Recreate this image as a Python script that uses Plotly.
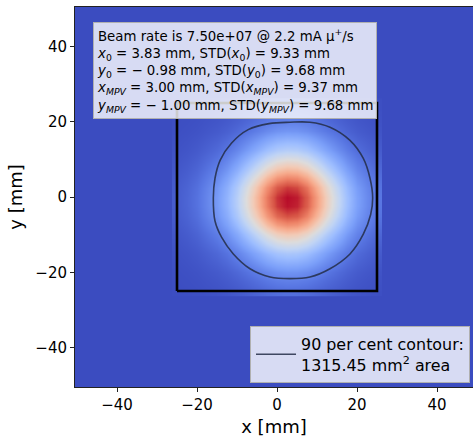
import plotly.graph_objects as go

# ---- data ----
grid_x = [-25, -22.5, -20, -17.5, -15, -12.5, -10, -7.5, -5, -2.5, 0, 2.5, 5, 7.5, 10, 12.5, 15, 17.5, 20, 22.5, 25]
grid_y = [-25, -22.5, -20, -17.5, -15, -12.5, -10, -7.5, -5, -2.5, 0, 2.5, 5, 7.5, 10, 12.5, 15, 17.5, 20, 22.5, 25]
profile_x = [0.04, 0.06, 0.09, 0.14, 0.19, 0.27, 0.38, 0.52, 0.67, 0.83, 0.95, 1.00, 0.98, 0.89, 0.74, 0.58, 0.44, 0.31, 0.21, 0.15, 0.10]
profile_y = [0.08, 0.12, 0.17, 0.25, 0.34, 0.47, 0.61, 0.77, 0.90, 0.98, 0.99, 0.93, 0.80, 0.65, 0.50, 0.37, 0.27, 0.18, 0.13, 0.09, 0.06]

contour_x = [3.25, 8.25, 13.25, 18.25, 21.58, 23.25, 23.92, 23.42, 21.58, 18.25, 13.25, 8.25, 3.25,
             -1.75, -6.75, -10.92, -13.83, -15.5, -15.92, -15.5, -14.2, -11.4, -7.2, -2.0, 3.25]
contour_y = [19.87, 19.87, 18.55, 15.05, 10.24, 4.99, -0.26, -4.64, -9.89, -15.14, -19.07, -21.26, -21.7,
             -21.26, -19.07, -15.14, -10.76, -6.38, -0.26, 4.99, 9.8, 14.3, 17.9, 19.5, 19.87]

box_x = [-25, 25, 25, -25, -25]
box_y = [-25, -25, 25, 25, -25]

x_ticks = [-40, -20, 0, 20, 40]
y_ticks = [-40, -20, 0, 20, 40]

info_lines = [
    "Beam rate is 7.50e+07 @ 2.2 mA μ<sup>+</sup>/s",
    "<i>x</i><sub>0</sub> = 3.83 mm, STD(<i>x</i><sub>0</sub>) = 9.33 mm",
    "<i>y</i><sub>0</sub> = − 0.98 mm, STD(<i>y</i><sub>0</sub>) = 9.68 mm",
    "<i>x<sub>MPV</sub></i> = 3.00 mm, STD(<i>x<sub>MPV</sub></i>) = 9.37 mm",
    "<i>y<sub>MPV</sub></i> = − 1.00 mm, STD(<i>y<sub>MPV</sub></i>) = 9.68 mm",
]
legend_label = "90 per cent contour:<br>1315.45 mm<sup>2</sup> area"

coolwarm = [
    [0.0, "#3b4cc0"], [0.1, "#5977e3"], [0.2, "#7b9ff9"], [0.3, "#9ebeff"],
    [0.4, "#c0d4f5"], [0.5, "#dddcdc"], [0.6, "#f2cbb7"], [0.7, "#f7ac8e"],
    [0.8, "#ee8468"], [0.9, "#d65244"], [1.0, "#b40426"],
]

z = [[py * px for px in profile_x] for py in profile_y]

FONT = "DejaVu Sans"

fig = go.Figure()
fig.add_trace(go.Heatmap(x=grid_x, y=grid_y, z=z, colorscale=coolwarm, zmin=0, zmax=1,
                         zsmooth="best", showscale=False, hoverinfo="skip"))
fig.add_trace(go.Scatter(x=contour_x, y=contour_y, mode="lines",
                         line=dict(color="rgba(35,45,70,0.85)", width=1.6, shape="spline"),
                         name=legend_label, showlegend=True))
fig.add_trace(go.Scatter(x=box_x, y=box_y, mode="lines", line=dict(color="black", width=2.6),
                         showlegend=False, hoverinfo="skip"))

# plot area (page px): x 75..473, y 7..392
fig.add_annotation(xref="paper", yref="paper", x=0.045, y=0.961, xanchor="left", yanchor="top",
                   text="<br>".join(info_lines), align="left", showarrow=False,
                   font=dict(family=FONT, size=13.3, color="black"),
                   bgcolor="rgba(255,255,255,0.8)", bordercolor="#b0b0b0", borderwidth=1, borderpad=3)

fig.update_layout(
    width=473, height=437,
    margin=dict(l=75, r=0, t=7, b=45),
    paper_bgcolor="white", plot_bgcolor="#3b4cc0",
    font=dict(family=FONT, size=15, color="black"),
    legend=dict(x=0.9925, y=0.0104, xanchor="right", yanchor="bottom", itemwidth=40,
                bgcolor="rgba(255,255,255,0.8)", bordercolor="#b0b0b0", borderwidth=1,
                font=dict(family=FONT, size=15.9, color="black")),
    xaxis=dict(range=[-50.5, 49.0], tickvals=x_ticks, ticktext=[str(v).replace("-", "−") for v in x_ticks],
               showgrid=False, zeroline=False, showline=True, mirror=True, linecolor="#222", linewidth=1,
               ticks="outside", ticklen=4, tickcolor="#222", title=dict(text="x [mm]", standoff=10)),
    yaxis=dict(range=[-50.5, 50.5], tickvals=y_ticks, ticktext=[str(v).replace("-", "−") for v in y_ticks],
               showgrid=False, zeroline=False, showline=True, mirror=False, linecolor="#222", linewidth=1,
               ticks="outside", ticklen=4, tickcolor="#222", title=dict(text="y [mm]", standoff=8)),
)

fig.write_html("out.html", config={"displayModeBar": False},
               post_script="document.documentElement.style.margin='0';document.body.style.margin='0';"
                           "document.body.style.overflow='hidden';")
